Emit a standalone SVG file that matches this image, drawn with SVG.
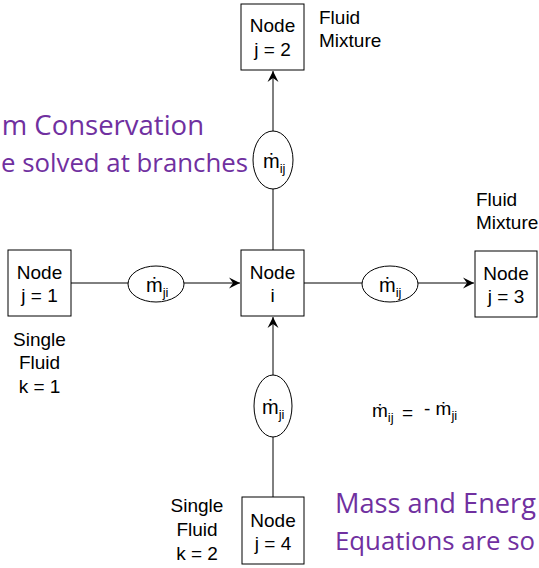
<svg xmlns="http://www.w3.org/2000/svg" width="539" height="568" viewBox="0 0 539 568">
<defs>
<style>
.box{fill:#fff;stroke:#000;stroke-width:1}
.ell{fill:#fff;stroke:#000;stroke-width:1}
.t{font-family:"Liberation Sans",Arial,sans-serif;font-size:19px;fill:#000;text-anchor:middle}
.tl{font-family:"Liberation Sans",Arial,sans-serif;font-size:19px;fill:#000}
.m{font-family:"Liberation Sans","DejaVu Sans",sans-serif;font-size:20px;fill:#000}
.sub{font-size:13px}
.p{font-family:"Open Sans","Noto Sans",sans-serif;font-size:27.5px;fill:#7030A0}
.ln{stroke:#000;stroke-width:1;fill:none}
</style>
<marker id="arr" markerWidth="12" markerHeight="12" refX="11" refY="6" orient="auto" markerUnits="userSpaceOnUse">
<path d="M0,0.5 L11,6 L0,11.5 L4,6 z" fill="#000"/>
</marker>
</defs>
<g id="connectors">
<line class="ln" x1="273" y1="250" x2="273" y2="71" marker-end="url(#arr)"/>
<line class="ln" x1="71" y1="283" x2="240" y2="283" marker-end="url(#arr)"/>
<line class="ln" x1="304" y1="283" x2="474" y2="283" marker-end="url(#arr)"/>
<line class="ln" x1="273" y1="497" x2="273" y2="317" marker-end="url(#arr)"/>
</g>
<g id="flow-top">
<ellipse class="ell" cx="273" cy="160" rx="20" ry="29"/>
<text class="m" x="263" y="168">ṁ<tspan class="sub" dy="5">ij</tspan></text>
</g>
<g id="flow-left">
<ellipse class="ell" cx="156" cy="284" rx="28" ry="18"/>
<text class="m" x="146" y="292">ṁ<tspan class="sub" dy="5">ji</tspan></text>
</g>
<g id="flow-right">
<ellipse class="ell" cx="390" cy="284" rx="28" ry="18"/>
<text class="m" x="379" y="292">ṁ<tspan class="sub" dy="5">ij</tspan></text>
</g>
<g id="flow-bottom">
<ellipse class="ell" cx="273" cy="406" rx="19" ry="31"/>
<text class="m" x="262" y="414">ṁ<tspan class="sub" dy="5">ji</tspan></text>
</g>
<g id="node-j2">
<rect class="box" x="241" y="4" width="63" height="66"/>
<text class="t" x="272.5" y="32">Node</text>
<text class="t" x="272.5" y="56">j = 2</text>
</g>
<g id="node-i">
<rect class="box" x="241" y="250" width="63" height="66"/>
<text class="t" x="272.5" y="279">Node</text>
<text class="t" x="272.5" y="302">i</text>
</g>
<g id="node-j1">
<rect class="box" x="8" y="250" width="63" height="66"/>
<text class="t" x="39.5" y="279">Node</text>
<text class="t" x="39.5" y="302">j = 1</text>
</g>
<g id="node-j3">
<rect class="box" x="475" y="251" width="62" height="66"/>
<text class="t" x="506" y="280">Node</text>
<text class="t" x="506" y="303">j = 3</text>
</g>
<g id="node-j4">
<rect class="box" x="242" y="497" width="62" height="67"/>
<text class="t" x="273" y="527">Node</text>
<text class="t" x="273" y="550">j = 4</text>
</g>
<g id="labels">
<text class="tl" x="319" y="24">Fluid</text>
<text class="tl" x="319" y="47">Mixture</text>
<text class="tl" x="476" y="206">Fluid</text>
<text class="tl" x="476" y="229">Mixture</text>
<text class="t" x="39.5" y="346">Single</text>
<text class="t" x="39.5" y="369">Fluid</text>
<text class="t" x="39.5" y="393">k = 1</text>
<text class="t" x="197" y="512">Single</text>
<text class="t" x="197" y="536">Fluid</text>
<text class="t" x="197" y="560">k = 2</text>
<text class="m" x="372" y="417" style="font-size:19px">ṁ<tspan class="sub" dy="5">ij</tspan><tspan x="402" y="419">=</tspan><tspan x="424" y="415">- ṁ</tspan><tspan class="sub" dy="5">ji</tspan></text>
</g>
<g id="notes">
<text class="p" x="204" y="135" text-anchor="end">m Conservation</text>
<text class="p" x="1" y="172" style="font-size:26px" textLength="247" lengthAdjust="spacingAndGlyphs">e solved at branches</text>
<text class="p" x="335" y="513" textLength="201" lengthAdjust="spacingAndGlyphs">Mass and Energ</text>
<text class="p" x="335" y="550" style="font-size:26px" textLength="200" lengthAdjust="spacingAndGlyphs">Equations are so</text>
</g>
</svg>
